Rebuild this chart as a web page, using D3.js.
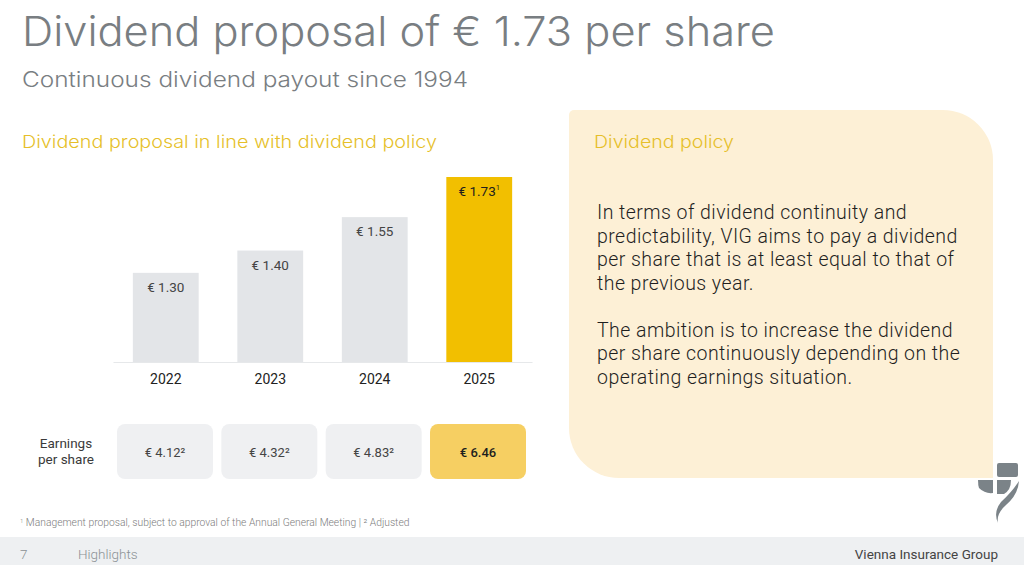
<!DOCTYPE html>
<html>
<head>
<meta charset="utf-8">
<script src="https://cdn.jsdelivr.net/npm/d3@7"></script>
<style>
  html, body { margin: 0; padding: 0; background: #fff; }
  svg { display: block; font-family: Roboto, "Noto Sans", sans-serif; }
</style>
</head>
<body>
<svg id="slide" width="1024" height="565"></svg>
<script>
// data
const years = ["2022", "2023", "2024", "2025"];
const dividends = [1.30, 1.40, 1.55, 1.73];
const dividendNotes = ["", "", "", "1"];
const eps = [4.12, 4.32, 4.83, 6.46];
const epsNotes = ["²", "²", "²", ""];
const policyText = [
  ["In terms of dividend continuity and",
   "predictability, VIG aims to pay a dividend",
   "per share that is at least equal to that of",
   "the previous year."],
  ["The ambition is to increase the dividend",
   "per share continuously depending on the",
   "operating earnings situation."]
];

const svg = d3.select("#slide");
const headFont = "Inter, Lato, sans-serif";
const gold = "#f2bf00";
const goldText = "#e6bf2a";

// --- titles ---
svg.append("text")
  .attr("x", 22).attr("y", 46)
  .attr("font-family", headFont).attr("font-weight", 300)
  .attr("font-size", 41).attr("fill", "#797e82")
  .attr("textLength", 753).attr("lengthAdjust", "spacingAndGlyphs")
  .text("Dividend proposal of € 1.73 per share");

svg.append("text")
  .attr("x", 22).attr("y", 87)
  .attr("font-family", headFont).attr("font-weight", 300)
  .attr("font-size", 21).attr("fill", "#797e82")
  .attr("textLength", 446).attr("lengthAdjust", "spacingAndGlyphs")
  .text("Continuous dividend payout since 1994");

svg.append("text")
  .attr("x", 22).attr("y", 148)
  .attr("font-family", headFont).attr("font-weight", 300)
  .attr("font-size", 17.5).attr("fill", goldText)
  .attr("textLength", 415).attr("lengthAdjust", "spacingAndGlyphs")
  .text("Dividend proposal in line with dividend policy");

// --- dividend bars ---
const x = d3.scaleBand()
  .domain(years)
  .range([113, 532])
  .paddingInner(0.37)
  .paddingOuter(0.19);

// the slide's bars start from a cut baseline, not from zero
const y = d3.scaleLinear()
  .domain([0.9, d3.max(dividends)])
  .range([362, 177]);

const barData = years.map((yr, i) => ({ year: yr, value: dividends[i], note: dividendNotes[i] }));

const bars = svg.append("g").attr("class", "bars");
bars.selectAll("rect")
  .data(barData)
  .join("rect")
  .attr("x", d => x(d.year))
  .attr("y", d => y(d.value))
  .attr("width", x.bandwidth())
  .attr("height", d => y.range()[0] - y(d.value))
  .attr("fill", (d, i) => i === barData.length - 1 ? gold : "#e3e5e8");

const barLabels = bars.selectAll("text.val")
  .data(barData)
  .join("text")
  .attr("class", "val")
  .attr("x", d => x(d.year) + x.bandwidth() / 2)
  .attr("y", d => y(d.value) + 19)
  .attr("text-anchor", "middle")
  .attr("font-size", 13.5)
  .attr("fill", (d, i) => i === barData.length - 1 ? "#1e1e1e" : "#444");
barLabels.append("tspan").text(d => "€ " + d3.format(".2f")(d.value));
barLabels.filter(d => d.note)
  .append("tspan")
  .attr("font-size", 7.5).attr("dy", -6)
  .text(d => d.note);

// x axis: baseline + year labels
const xAxis = svg.append("g")
  .attr("transform", `translate(0,${y.range()[0]})`)
  .call(d3.axisBottom(x).tickSize(0).tickPadding(12));
xAxis.select(".domain").attr("stroke", "#e6e8ea").attr("stroke-width", 1.2);
xAxis.selectAll("text")
  .attr("font-family", "Roboto, sans-serif")
  .attr("font-size", 14).attr("font-weight", 400).attr("fill", "#222");

// --- earnings per share boxes ---
const xe = d3.scaleBand()
  .domain(years)
  .range([117, 526])
  .paddingInner(0.08)
  .paddingOuter(0);

const epsData = years.map((yr, i) => ({ year: yr, value: eps[i], note: epsNotes[i] }));
const epsG = svg.append("g").attr("class", "eps");
epsG.selectAll("rect")
  .data(epsData)
  .join("rect")
  .attr("x", d => xe(d.year))
  .attr("y", 424)
  .attr("width", xe.bandwidth())
  .attr("height", 55)
  .attr("rx", 8)
  .attr("fill", (d, i) => i === epsData.length - 1 ? "#f6cf62" : "#eff0f2");

epsG.selectAll("text")
  .data(epsData)
  .join("text")
  .attr("x", d => xe(d.year) + xe.bandwidth() / 2)
  .attr("y", 457)
  .attr("text-anchor", "middle")
  .attr("font-size", 13)
  .attr("font-weight", (d, i) => i === epsData.length - 1 ? 500 : 400)
  .attr("fill", (d, i) => i === epsData.length - 1 ? "#1e1e1e" : "#444")
  .text(d => "€ " + d3.format(".2f")(d.value) + d.note);

const epsTitle = svg.append("text")
  .attr("x", 66).attr("text-anchor", "middle")
  .attr("font-size", 13.5).attr("fill", "#3a3a3a");
epsTitle.append("tspan").attr("x", 66).attr("y", 448).text("Earnings");
epsTitle.append("tspan").attr("x", 66).attr("y", 464).text("per share");

// footnote
const foot = svg.append("text")
  .attr("x", 20).attr("y", 526)
  .attr("font-size", 10.3).attr("font-weight", 300).attr("fill", "#7d7d7d");
foot.append("tspan").attr("font-size", 6).attr("dy", -3).text("1");
foot.append("tspan").attr("dy", 3).text(" Management proposal, subject to approval of the Annual General Meeting | ² Adjusted");

// --- dividend policy panel ---
const px0 = 569, py0 = 110, px1 = 993, py1 = 478, rBig = 50, rSmall = 5;
const panel = d3.path();
panel.moveTo(px0 + rSmall, py0);
panel.lineTo(px1 - rBig, py0);
panel.arcTo(px1, py0, px1, py0 + rBig, rBig);
panel.lineTo(px1, py1);
panel.lineTo(px0 + rBig, py1);
panel.arcTo(px0, py1, px0, py1 - rBig, rBig);
panel.lineTo(px0, py0 + rSmall);
panel.arcTo(px0, py0, px0 + rSmall, py0, rSmall);
panel.closePath();
svg.append("path").attr("d", panel.toString()).attr("fill", "#fdf0d6");

svg.append("text")
  .attr("x", 594).attr("y", 148)
  .attr("font-family", headFont).attr("font-weight", 300)
  .attr("font-size", 17.5).attr("fill", goldText)
  .attr("textLength", 140).attr("lengthAdjust", "spacingAndGlyphs")
  .text("Dividend policy");

const policy = svg.append("text")
  .attr("font-family", "Roboto, sans-serif").attr("font-weight", 300)
  .attr("font-size", 19.5).attr("letter-spacing", 0.45).attr("fill", "#1f1f1f");
let lineY = 219;
policyText.forEach((para, pi) => {
  if (pi > 0) lineY += 23.5;
  para.forEach(line => {
    policy.append("tspan").attr("x", 597).attr("y", lineY).text(line);
    lineY += 23.5;
  });
});

// logo mark
const logo = svg.append("g").attr("fill", "#7b8388");
logo.append("rect").attr("x", 997).attr("y", 463).attr("width", 21).attr("height", 14).attr("rx", 2);
logo.append("path").attr("d", "M978,480 L993,480 L993,493 Q985,494 979,488 Q978,485 978,480 Z");
logo.append("path").attr("d", "M997,480 L1011,480 Q1011,490 1004,494 L997,494 Z");
logo.append("path").attr("d", "M1019,481 Q1018,495 1006,505 Q996,514 998,523 Q993,512 1001,502 Q1012,492 1019,481 Z");

// --- footer band ---
svg.append("rect").attr("x", 0).attr("y", 537).attr("width", 1024).attr("height", 28).attr("fill", "#eef0f2");
svg.append("text").attr("x", 20).attr("y", 559)
  .attr("font-size", 13.5).attr("font-weight", 300).attr("fill", "#8b9094").text("7");
svg.append("text").attr("x", 78).attr("y", 559)
  .attr("font-size", 13.5).attr("font-weight", 300).attr("fill", "#8b9094").text("Highlights");
svg.append("text").attr("x", 998).attr("y", 559).attr("text-anchor", "end")
  .attr("font-size", 13.5).attr("fill", "#444").text("Vienna Insurance Group");
</script>
</body>
</html>
